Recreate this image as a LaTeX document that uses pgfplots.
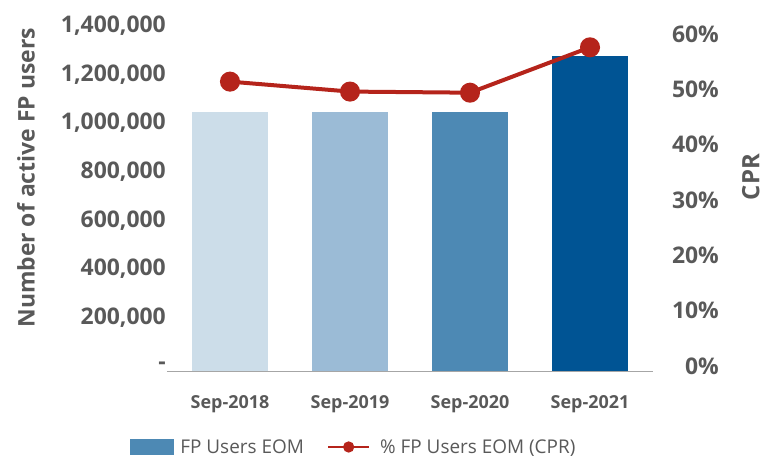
\documentclass[border=0pt]{standalone}
\usepackage{fontspec}
\setmainfont{Open Sans}
\usepackage{pgfplots}
\pgfplotsset{compat=1.18}
\definecolor{txt}{HTML}{595959}
\definecolor{cA}{HTML}{CCDDE9}
\definecolor{cB}{HTML}{9BBBD6}
\definecolor{cC}{HTML}{4D89B4}
\definecolor{cD}{HTML}{005494}
\definecolor{lred}{HTML}{B5241B}
\definecolor{axl}{HTML}{A6A6A6}
\begin{document}
\begin{tikzpicture}
\path[use as bounding box] (0,0) rectangle (765bp,459bp);
\begin{axis}[
  at={(170bp,88bp)}, anchor=south west, scale only axis,
  width=480bp, height=340bp,
  xmin=-0.5, xmax=3.5, ymin=0, ymax=1400000,
  ybar, bar width=76bp, bar shift=0pt,
  axis x line*=bottom, axis y line*=left,
  x axis line style={draw=axl, line width=1bp, shorten <=-3bp, shorten >=-3bp, -},
  y axis line style={draw=none},
  major tick length=0pt, tick style={draw=none},
  xtick={0,1,2,3}, xticklabels={Sep-2018,Sep-2019,Sep-2020,Sep-2021},
  ytick={0,200000,400000,600000,800000,1000000,1200000,1400000},
  yticklabels={{-},{200,000},{400,000},{600,000},{800,000},{1,000,000},{1,200,000},{1,400,000}},
  scaled y ticks=false,
  yticklabel style={font=\bfseries\fontsize{23}{23}\selectfont, text=txt, anchor=east, inner sep=0pt, xshift=-4bp, yshift=5bp},
  xticklabel style={font=\bfseries\fontsize{18}{18}\selectfont, text=txt, yshift=-21bp},
  ylabel={Number of active FP users},
  ylabel style={at={(axis description cs:-0.300,0.568)}, anchor=center, rotate=0, font=\bfseries\fontsize{23}{23}\selectfont, text=txt},
]
\addplot[fill=cA, draw=none] coordinates {(0,1066000)};
\addplot[fill=cB, draw=none] coordinates {(1,1066000)};
\addplot[fill=cC, draw=none] coordinates {(2,1066000)};
\addplot[fill=cD, draw=none] coordinates {(3,1297000)};
\end{axis}
\begin{axis}[
  at={(170bp,88bp)}, anchor=south west, scale only axis,
  width=480bp, height=340bp,
  xmin=-0.5, xmax=3.5, ymin=0, ymax=61.45,
  axis x line=none, axis y line*=right,
  y axis line style={draw=none},
  major tick length=0pt, tick style={draw=none},
  xtick=\empty,
  ytick={0,10,20,30,40,50,60},
  yticklabels={0\%,10\%,20\%,30\%,40\%,50\%,60\%},
  yticklabel style={font=\bfseries\fontsize{23}{23}\selectfont, text=txt, anchor=east, inner sep=0pt, xshift=69bp, yshift=5bp},
  ylabel={CPR},
  ylabel style={at={(axis description cs:1.21,0.57)}, anchor=center, rotate=0, font=\bfseries\fontsize{24}{24}\selectfont, text=txt},
  legend style={at={(axis description cs:-0.09,-0.2235)}, anchor=west, draw=none, fill=none,
    font=\fontsize{19}{19}\selectfont, text=txt, legend columns=2,
    /tikz/every even column/.append style={column sep=21bp}},
  legend cell align=left,
]
\addlegendimage{legend image code/.code={\fill[cC] (0bp,-7bp) rectangle (43bp,8bp); \path (48bp,0bp);}}
\addlegendentry{FP Users EOM}
\addplot[lred, line width=4bp, mark=*, mark size=8bp, mark options={fill=lred, draw=none},
  legend image code/.code={\draw[lred, line width=2.5bp] (0bp,0bp) -- (41bp,0bp); \fill[lred] (20.5bp,0bp) circle (3.5bp); \path (48bp,0bp);}]
  coordinates {(0,52.3) (1,50.5) (2,50.3) (3,58.5)};
\addlegendentry{\% FP Users EOM (CPR)}
\end{axis}
\end{tikzpicture}
\end{document}
